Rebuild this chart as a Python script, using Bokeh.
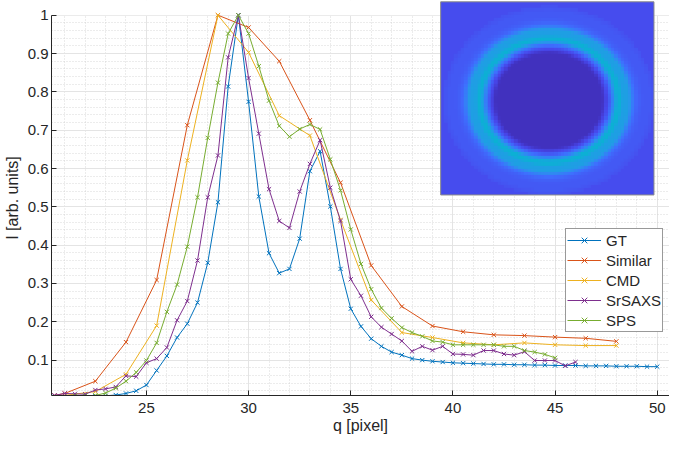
import numpy as np
from bokeh.plotting import figure
from bokeh.models import (FixedTicker, CustomJSTickFormatter, Legend, LegendItem,
                          LinearColorMapper, Range1d)
from bokeh.embed import file_html
from bokeh.resources import INLINE

# ---------------- data ----------------
q_gt = [20.5, 21, 21.5, 22, 22.5, 23, 23.5, 24, 24.5, 25,
        25.5, 26, 26.5, 27, 27.5, 28, 28.5, 29, 29.5, 30,
        30.5, 31, 31.5, 32, 32.5, 33, 33.5, 34, 34.5, 35,
        35.5, 36, 36.5, 37, 37.5, 38, 38.5, 39, 39.5, 40,
        40.5, 41, 41.5, 42, 42.5, 43, 43.5, 44, 44.5, 45,
        45.5, 46, 46.5, 47, 47.5, 48, 48.5, 49, 49.5, 50]
I_gt = [0.007, 0.007, 0.007, 0.007, 0.006, 0.007, 0.009, 0.013, 0.020, 0.035,
        0.073, 0.111, 0.159, 0.195, 0.250, 0.354, 0.512, 0.814, 1.000, 0.774,
        0.527, 0.379, 0.327, 0.338, 0.417, 0.593, 0.645, 0.501, 0.338, 0.234,
        0.188, 0.156, 0.136, 0.121, 0.113, 0.104, 0.100, 0.097, 0.095, 0.093,
        0.092, 0.091, 0.090, 0.089, 0.089, 0.088, 0.088, 0.087, 0.087, 0.086,
        0.086, 0.086, 0.085, 0.085, 0.085, 0.084, 0.084, 0.084, 0.083, 0.083]

q_similar = [20.5, 21, 22.5, 24, 25.5, 27, 28.5, 30, 31.5, 33,
             34.5, 36, 37.5, 39, 40.5, 42, 43.5, 45, 46.5, 48]
I_similar = [0.008, 0.013, 0.045, 0.147, 0.309, 0.713, 1.000, 0.968, 0.880, 0.726,
             0.563, 0.347, 0.240, 0.189, 0.174, 0.166, 0.164, 0.160, 0.157, 0.149]

q_cmd = [21, 22.5, 24, 25.5, 27, 28.5, 30, 31.5, 33, 34.5,
         36, 37.5, 39, 40.5, 42, 43.5, 45, 46.5, 48]
I_cmd = [0.008, 0.018, 0.063, 0.190, 0.621, 1.000, 0.903, 0.738, 0.686, 0.466,
         0.257, 0.172, 0.159, 0.145, 0.140, 0.145, 0.140, 0.138, 0.138]

q_srsaxs = [20.5, 21, 21.5, 22, 22.5, 23, 23.5, 24, 24.5, 25,
            25.5, 26, 26.5, 27, 27.5, 28, 28.5, 29, 29.5, 30,
            30.5, 31, 31.5, 32, 32.5, 33, 33.5, 34, 34.5, 35,
            35.5, 36, 36.5, 37, 37.5, 38, 38.5, 39, 39.5, 40,
            40.5, 41, 41.5, 42, 42.5, 43, 43.5, 44, 44.5, 45,
            45.5, 46]
I_srsaxs = [0.008, 0.013, 0.012, 0.011, 0.022, 0.025, 0.030, 0.059, 0.057, 0.093,
            0.104, 0.133, 0.204, 0.254, 0.360, 0.525, 0.634, 0.890, 1.000, 0.836,
            0.691, 0.546, 0.463, 0.445, 0.540, 0.612, 0.674, 0.550, 0.463, 0.311,
            0.268, 0.213, 0.186, 0.168, 0.150, 0.123, 0.136, 0.126, 0.136, 0.116,
            0.115, 0.113, 0.125, 0.125, 0.116, 0.113, 0.122, 0.099, 0.099, 0.099,
            0.085, 0.095]

q_sps = [21.5, 22, 22.5, 23, 23.5, 24, 24.5, 25,
         25.5, 26, 26.5, 27, 27.5, 28, 28.5, 29, 29.5,
         30, 30.5, 31, 31.5, 32, 32.5, 33, 33.5, 34, 34.5,
         35, 35.5, 36, 36.5, 37, 37.5, 38, 38.5, 39, 39.5,
         40, 40.5, 41, 41.5, 42, 42.5, 43, 43.5, 44, 44.5, 45]
I_sps = [0.007, 0.007, 0.008, 0.014, 0.027, 0.045, 0.068, 0.099,
         0.145, 0.226, 0.297, 0.396, 0.525, 0.680, 0.824, 0.952, 1.000,
         0.952, 0.867, 0.777, 0.711, 0.683, 0.703, 0.715, 0.702, 0.624, 0.543,
         0.441, 0.351, 0.285, 0.236, 0.209, 0.185, 0.172, 0.162, 0.150, 0.147,
         0.140, 0.140, 0.140, 0.140, 0.140, 0.136, 0.136, 0.125, 0.121, 0.115, 0.106]

series_names = ["GT", "Similar", "CMD", "SrSAXS", "SPS"]
series_q = [q_gt, q_similar, q_cmd, q_srsaxs, q_sps]
series_I = [I_gt, I_similar, I_cmd, I_srsaxs, I_sps]
series_colors = ["#0072BD", "#D95319", "#EDB120", "#7E2F8E", "#77AC30"]

x_major_ticks = [25, 30, 35, 40, 45, 50]
y_major_ticks = [0.1, 0.2, 0.3, 0.4, 0.5, 0.6, 0.7, 0.8, 0.9, 1.0]
x_label = "q [pixel]"
y_label = "I [arb. units]"

# ---------------- layout / style ----------------
X0, X1 = 20.354, 50.60
Y0, Y1, YTOP = 0.0077, 1.0, 1.0384
FONT = "Liberation Sans"
TXT = "#262626"

p = figure(width=669, height=437, output_backend="svg", toolbar_location=None,
           x_range=Range1d(X0, X1), y_range=Range1d(Y0, YTOP),
           min_border_left=46, min_border_right=0, min_border_top=0,
           min_border_bottom=42)
p.outline_line_color = None
p.background_fill_color = "white"
p.border_fill_color = "white"

x_minor = [v for v in range(21, 51) if v % 5 != 0]
y_minor = [round(0.02 * k, 2) for k in range(1, 50) if k % 5 != 0]
p.xaxis.ticker = FixedTicker(ticks=x_major_ticks, minor_ticks=x_minor)
p.yaxis.ticker = FixedTicker(ticks=y_major_ticks, minor_ticks=y_minor)
p.yaxis.formatter = CustomJSTickFormatter(code="return (Math.round(tick*10)/10).toString();")

for ax in (p.xaxis[0], p.yaxis[0]):
    ax.axis_line_color = TXT
    ax.axis_line_width = 1
    ax.major_tick_in = 5
    ax.major_tick_out = 0
    ax.major_tick_line_color = TXT
    ax.minor_tick_in = 0
    ax.minor_tick_out = 0
    ax.major_label_text_font = FONT
    ax.major_label_text_font_size = "15px"
    ax.major_label_text_color = TXT
    ax.axis_label_text_font = FONT
    ax.axis_label_text_font_size = "16px"
    ax.axis_label_text_font_style = "normal"
    ax.axis_label_text_color = TXT

p.xaxis.axis_label = x_label
p.yaxis.axis_label = y_label
p.xaxis.major_label_standoff = 7
p.xaxis.axis_label_standoff = 1
p.yaxis.major_label_standoff = 3
p.yaxis.axis_label_standoff = 4
p.yaxis.bounds = (Y0, Y1)

for g in (p.xgrid[0], p.ygrid[0]):
    g.grid_line_color = "#e4e4e4"
    g.grid_line_width = 1
    g.minor_grid_line_color = "#cfcfcf"
    g.minor_grid_line_dash = "1 2"
    g.minor_grid_line_width = 1
    g.minor_grid_line_alpha = 0.8

# mask above y = 1 so only the inset sits there
p.quad(left=X0, right=X1, bottom=Y1, top=YTOP + 0.01, fill_color="white", line_color=None)

items = []
for name, qs, Is, col in zip(series_names, series_q, series_I, series_colors):
    r1 = p.line(qs, Is, line_color=col, line_width=1.0)
    r2 = p.scatter(qs, Is, marker="x", size=6, line_color=col, line_width=1)
    items.append(LegendItem(label=name, renderers=[r1, r2]))

legend = Legend(items=items, location=(514, 63))
legend.margin = 0
legend.padding = 1
legend.spacing = 0
legend.label_height = 20
legend.glyph_height = 20
legend.glyph_width = 34
legend.label_standoff = 5
legend.label_text_font = FONT
legend.label_text_font_size = "15px"
legend.label_text_color = TXT
legend.border_line_color = "#333333"
legend.border_line_width = 1
legend.background_fill_color = "white"
legend.background_fill_alpha = 1
p.add_layout(legend, "center")

# ---------------- inset: 2D ring built from the SPS radial profile ----------------
parula = [(0.2422, 0.1504, 0.6603), (0.2803, 0.2782, 0.9221), (0.2440, 0.4358, 0.9988),
          (0.1540, 0.5902, 0.9218), (0.0297, 0.7082, 0.8163), (0.1938, 0.7758, 0.6251),
          (0.5044, 0.7993, 0.3480), (0.8634, 0.7406, 0.1596), (0.9892, 0.8136, 0.1885),
          (0.9763, 0.9831, 0.0538)]
tt = np.linspace(0, 1, 256)
anc = np.linspace(0, 1, len(parula))
pal = []
for t in tt:
    rgb = [np.interp(t, anc, [c[k] for c in parula]) for k in range(3)]
    pal.append("#%02x%02x%02x" % tuple(int(round(255 * v)) for v in rgb))

IX0, IX1 = 39.40, 49.84
IY0, IY1 = 0.531, 1.035
ncol, nrow = 64, 59
W_px, H_px = 215.0, 196.7
cx, cy, rx, ry = 109.0, 100.7, 70.0, 63.0
jj = (np.arange(ncol) + 0.5) / ncol * W_px
ii = (np.arange(nrow) + 0.5) / nrow * H_px
SX, SY = np.meshgrid(jj, ii)
rho = np.sqrt(((SX - cx) / rx) ** 2 + ((SY - cy) / ry) ** 2)
qimg = rho * q_sps[int(np.argmax(I_sps))]
prof = np.interp(qimg, q_gt, I_gt, left=I_gt[0], right=I_gt[-1])
prof = np.where((qimg >= q_sps[0]) & (qimg <= q_sps[-1]),
                np.interp(qimg, q_sps, I_sps), prof)
img = np.sqrt(prof)[::-1, :]
rep = 4
img = np.repeat(np.repeat(img, rep, axis=0), rep, axis=1)
mapper = LinearColorMapper(palette=pal, low=0.0, high=2.3)
p.image(image=[img], x=IX0, y=IY0, dw=IX1 - IX0, dh=IY1 - IY0, color_mapper=mapper)
p.quad(left=IX0, right=IX1, bottom=IY0, top=IY1, fill_color=None,
       line_color="#8a8a8a", line_width=1)

open("out.html", "w").write(file_html(p, INLINE))
